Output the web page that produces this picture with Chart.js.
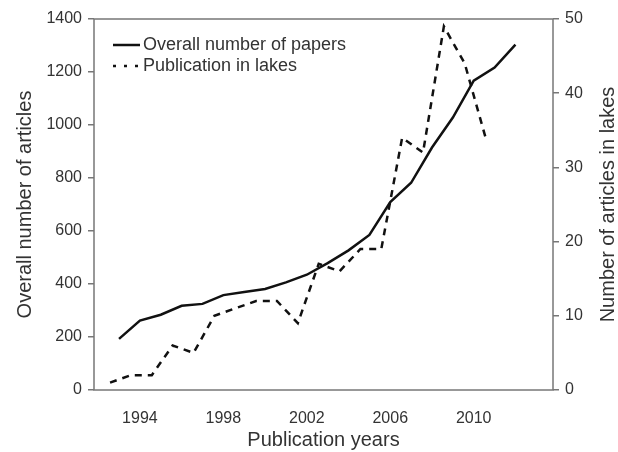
<!DOCTYPE html>
<html>
<head>
<meta charset="utf-8">
<script src="https://cdn.jsdelivr.net/npm/chart.js@4.4.1/dist/chart.umd.min.js"></script>
<style>
  html, body { margin: 0; padding: 0; background: #fff; }
  #wrap { width: 618px; height: 452px; position: relative; }
</style>
</head>
<body>
<div id="wrap"><canvas id="paperChart"></canvas></div>
<script>
// data
const years = [1993, 1994, 1995, 1996, 1997, 1998, 1999, 2000, 2001, 2002,
               2003, 2004, 2005, 2006, 2007, 2008, 2009, 2010, 2011, 2012];
const overallPapers = [193, 262, 284, 318, 325, 358, 370, 381, 406, 435,
                       479, 527, 585, 709, 782, 915, 1028, 1167, 1217, 1303];
const lakeYears = [1993, 1994, 1995, 1996, 1997, 1998, 1999, 2000, 2001, 2002,
                   2003, 2004, 2005, 2006, 2007, 2008, 2009, 2010, 2011];
const lakePapers = [1, 2, 2, 6, 5, 10, 11, 12, 12, 9,
                    17, 16, 19, 19, 34, 32, 49, 44, 34];
const yearTicks = [1994, 1998, 2002, 2006, 2010];
const leftTicks = [0, 200, 400, 600, 800, 1000, 1200, 1400];
const rightTicks = [0, 10, 20, 30, 40, 50];
const rightTitle = 'Number of articles in lakes';

const txt = '#333';
const axisGrey = '#777';
const fam = '"Liberation Sans", Arial, sans-serif';

// box around the plot, legend inside the top left corner, right axis title
const framePlugin = {
    id: 'frame',
    afterDatasetsDraw(chart) {
        const { ctx, chartArea: a } = chart;
        ctx.save();
        ctx.strokeStyle = axisGrey;
        ctx.lineWidth = 1.5;
        ctx.strokeRect(a.left, a.top, a.right - a.left, a.bottom - a.top);

        const x0 = a.left + 19, x1 = a.left + 46;
        const rows = [
            { y: a.top + 26, dash: [], label: chart.data.datasets[0].label },
            { y: a.top + 47, dash: [3, 8], label: chart.data.datasets[1].label }
        ];
        ctx.font = '18px ' + fam;
        ctx.textBaseline = 'middle';
        rows.forEach(r => {
            ctx.strokeStyle = '#111';
            ctx.lineWidth = 2.5;
            ctx.setLineDash(r.dash);
            ctx.beginPath();
            ctx.moveTo(x0, r.y);
            ctx.lineTo(x1, r.y);
            ctx.stroke();
            ctx.setLineDash([]);
            ctx.fillStyle = txt;
            ctx.fillText(r.label, x1 + 3, r.y);
        });

        // right title reads bottom to top like the left one
        const s = chart.scales.y2;
        ctx.translate(s.right - 10, (a.top + a.bottom) / 2);
        ctx.rotate(-Math.PI / 2);
        ctx.font = '20px ' + fam;
        ctx.textAlign = 'center';
        ctx.fillText(rightTitle, 0, 0);
        ctx.restore();
    }
};

new Chart(document.getElementById('paperChart'), {
    type: 'line',
    data: {
        datasets: [
            {
                label: 'Overall number of papers',
                data: years.map((y, i) => ({ x: y, y: overallPapers[i] })),
                borderColor: '#111',
                borderWidth: 2.5,
                pointRadius: 0,
                tension: 0,
                xAxisID: 'x',
                yAxisID: 'y'
            },
            {
                label: 'Publication in lakes',
                data: lakeYears.map((y, i) => ({ x: y, y: lakePapers[i] })),
                borderColor: '#111',
                borderWidth: 2.5,
                borderDash: [7, 6],
                pointRadius: 0,
                tension: 0,
                xAxisID: 'x2',
                yAxisID: 'y2'
            }
        ]
    },
    options: {
        responsive: true,
        maintainAspectRatio: false,
        animation: false,
        layout: { padding: { top: 19, left: 0, right: 0, bottom: 0 } },
        plugins: { legend: { display: false }, tooltip: { enabled: false } },
        scales: {
            x: {
                type: 'linear',
                position: 'bottom',
                min: 1991.8,
                max: 2013.8,
                afterBuildTicks: s => { s.ticks = yearTicks.map(v => ({ value: v })); },
                afterFit: s => { s.height = 62; },
                grid: { display: false },
                border: { display: false },
                ticks: {
                    color: txt,
                    font: { family: fam, size: 16 },
                    padding: 11,
                    maxRotation: 0,
                    callback: v => String(v)
                },
                title: {
                    display: true,
                    text: 'Publication years',
                    color: txt,
                    font: { family: fam, size: 20, lineHeight: 1 },
                    padding: { top: 0, bottom: 2 }
                }
            },
            x2: {
                type: 'linear',
                display: false,
                min: 1992.23,
                max: 2014.23
            },
            y: {
                position: 'left',
                min: 0,
                max: 1400,
                afterBuildTicks: s => { s.ticks = leftTicks.map(v => ({ value: v })); },
                afterFit: s => { s.width = 94; },
                grid: { drawOnChartArea: false, color: axisGrey, lineWidth: 1.5, tickLength: 6 },
                border: { display: false },
                ticks: {
                    color: txt,
                    font: { family: fam, size: 16 },
                    padding: 6,
                    callback: v => String(v)
                },
                title: {
                    display: true,
                    text: 'Overall number of articles',
                    color: txt,
                    font: { family: fam, size: 20, lineHeight: 1 },
                    padding: { top: 15, bottom: 0 }
                }
            },
            y2: {
                position: 'right',
                min: 0,
                max: 50,
                afterBuildTicks: s => { s.ticks = rightTicks.map(v => ({ value: v })); },
                afterFit: s => { s.width = 65; },
                grid: { drawOnChartArea: false, color: axisGrey, lineWidth: 1.5, tickLength: 6 },
                border: { display: false },
                ticks: {
                    color: txt,
                    font: { family: fam, size: 16 },
                    padding: 6,
                    callback: v => String(v)
                }
            }
        }
    },
    plugins: [framePlugin]
});
</script>
</body>
</html>
